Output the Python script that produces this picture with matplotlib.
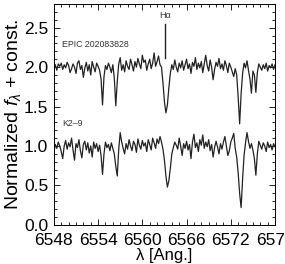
import numpy as np
import matplotlib.pyplot as plt
from matplotlib.ticker import MultipleLocator

plt.rcParams['font.family'] = ['Liberation Sans', 'DejaVu Sans']
plt.rcParams['mathtext.fontset'] = 'custom'
plt.rcParams['mathtext.it'] = 'Liberation Sans:italic'
plt.rcParams['mathtext.rm'] = 'Liberation Sans'

# wavelength grid (Ang.), 0.2 A sampling
wave = np.linspace(6548.0, 6578.0, 151)

# normalized flux, EPIC 202083828 (plotted +1.0)
flux_epic = [
    0.98, 1.03, 0.96, 1.04, 1.01, 1.05, 0.97, 1.03, 0.99, 1.06,
    1.02, 0.93, 0.98, 1.04, 1.00, 0.92, 1.05, 1.08, 0.97, 1.02,
    0.87, 0.99, 1.06, 0.95, 1.03, 0.90, 1.07, 1.00, 0.94, 1.05,
    1.01, 0.96, 0.85, 0.52, 0.88, 1.02, 0.97, 1.05, 1.00, 0.93,
    1.03, 0.86, 0.51, 0.82, 1.04, 1.12, 0.96, 1.03, 0.94, 1.08,
    1.01, 0.97, 1.10, 1.03, 0.95, 1.07, 1.00, 1.11, 1.04, 0.98,
    1.15, 1.06, 1.09, 0.96, 1.04, 1.10, 0.98, 1.05, 1.18, 1.01,
    1.07, 1.14, 1.03, 1.00, 0.80, 0.56, 0.42, 0.52, 0.74, 0.92,
    1.03, 0.97, 1.09, 1.00, 0.94, 1.05, 0.99, 1.08, 0.96, 1.03,
    1.10, 0.98, 1.04, 0.92, 1.06, 1.01, 1.12, 0.97, 1.05, 0.99,
    1.07, 0.93, 1.04, 1.15, 1.02, 0.95, 1.09, 1.00, 0.84, 0.97,
    1.06, 1.01, 1.11, 0.98, 1.04, 0.96, 1.08, 1.02, 0.93, 1.05,
    1.00, 0.94, 0.88, 0.98, 0.90, 0.62, 0.28, 0.66, 0.92, 1.05,
    0.99, 1.08, 0.96, 0.85, 0.67, 0.95, 0.90, 0.68, 0.93, 1.04,
    1.00, 0.96, 1.03, 0.98, 1.05, 0.95, 1.02, 0.99, 1.04, 0.97,
    1.03,
]

# normalized flux, K2-9
flux_k29 = [
    0.92, 1.02, 0.97, 1.05, 1.00, 0.93, 0.84, 1.00, 1.07, 0.96,
    1.04, 0.99, 1.10, 0.95, 0.82, 1.03, 0.98, 1.08, 0.94, 0.85,
    1.02, 1.06, 0.95, 1.04, 0.91, 1.00, 0.86, 1.05, 0.97, 1.03,
    0.93, 1.01, 0.88, 0.64, 0.90, 1.05, 0.98, 1.02, 0.94, 1.04,
    0.97, 0.90, 0.74, 0.62, 0.96, 1.17, 1.05, 0.97, 0.90, 1.03,
    0.96, 1.08, 1.00, 0.94, 1.06, 1.02, 0.92, 1.09, 1.01, 0.96,
    1.07, 1.00, 1.04, 0.93, 1.08, 1.02, 0.95, 1.10, 1.04, 0.97,
    1.09, 1.03, 1.12, 1.05, 0.96, 0.82, 0.62, 0.48, 0.56, 0.72,
    0.90, 0.98, 1.05, 1.01, 0.96, 1.10, 1.00, 0.88, 1.03, 0.97,
    1.06, 0.95, 1.02, 0.84, 1.05, 1.15, 0.98, 1.04, 0.93, 1.08,
    1.01, 1.14, 0.97, 1.05, 0.99, 1.08, 0.94, 1.02, 0.86, 0.98,
    1.06, 0.99, 0.90, 1.03, 0.96, 1.05, 1.12, 1.00, 0.88, 0.94,
    1.05, 1.10, 1.16, 0.97, 0.86, 0.66, 0.40, 0.22, 0.58, 0.88,
    1.04, 1.17, 1.06, 0.97, 1.03, 0.95, 0.84, 0.63, 0.90, 1.06,
    1.01, 0.96, 1.04, 1.00, 0.93, 1.05, 0.98, 1.02, 0.95, 1.03,
    0.99,
]

xticks = [6548, 6554, 6560, 6566, 6572, 6578]
offset_epic = 1.0
halpha = 6563.1

fig = plt.figure(figsize=(2.85, 2.64), dpi=100)
ax = fig.add_axes([0.189, 0.148, 0.776, 0.837])

ax.plot(wave, np.array(flux_epic) + offset_epic, color='#222222', lw=0.9)
ax.plot(wave, flux_k29, color='#222222', lw=0.9)

ax.text(6549.1, 2.29, 'EPIC 202083828', fontsize=6.3, color='#333333', va='center')
ax.text(6549.1, 1.28, 'K2\u20139', fontsize=6.3, color='#333333', va='center')
ax.text(halpha, 2.66, 'H\u03b1', fontsize=6.5, color='#333333', ha='center', va='center')
ax.plot([halpha, halpha], [2.12, 2.55], color='#222222', lw=1.0)

ax.set_xlim(6548, 6578)
ax.set_ylim(0.0, 2.8)
ax.set_xticks(xticks)
ax.xaxis.set_minor_locator(MultipleLocator(1))
ax.yaxis.set_major_locator(MultipleLocator(0.5))
ax.yaxis.set_minor_locator(MultipleLocator(0.1))
ax.tick_params(which='both', direction='in', top=True, right=True, labelsize=12.5, width=0.6)
ax.tick_params(which='major', length=4)
ax.tick_params(which='minor', length=2)
ax.tick_params(axis='x', which='major', pad=6)
ax.tick_params(axis='y', which='major', pad=4)
ax.yaxis.set_major_formatter(plt.FuncFormatter(lambda v, p: '%.1f' % v))
for s in ax.spines.values():
    s.set_linewidth(0.7)

ax.set_xlabel('\u03bb [Ang.]', fontsize=12, labelpad=0)
ax.set_ylabel('Normalized $f_\\lambda$ + const.', fontsize=14, labelpad=1)

fig.savefig('out.png', dpi=100)
